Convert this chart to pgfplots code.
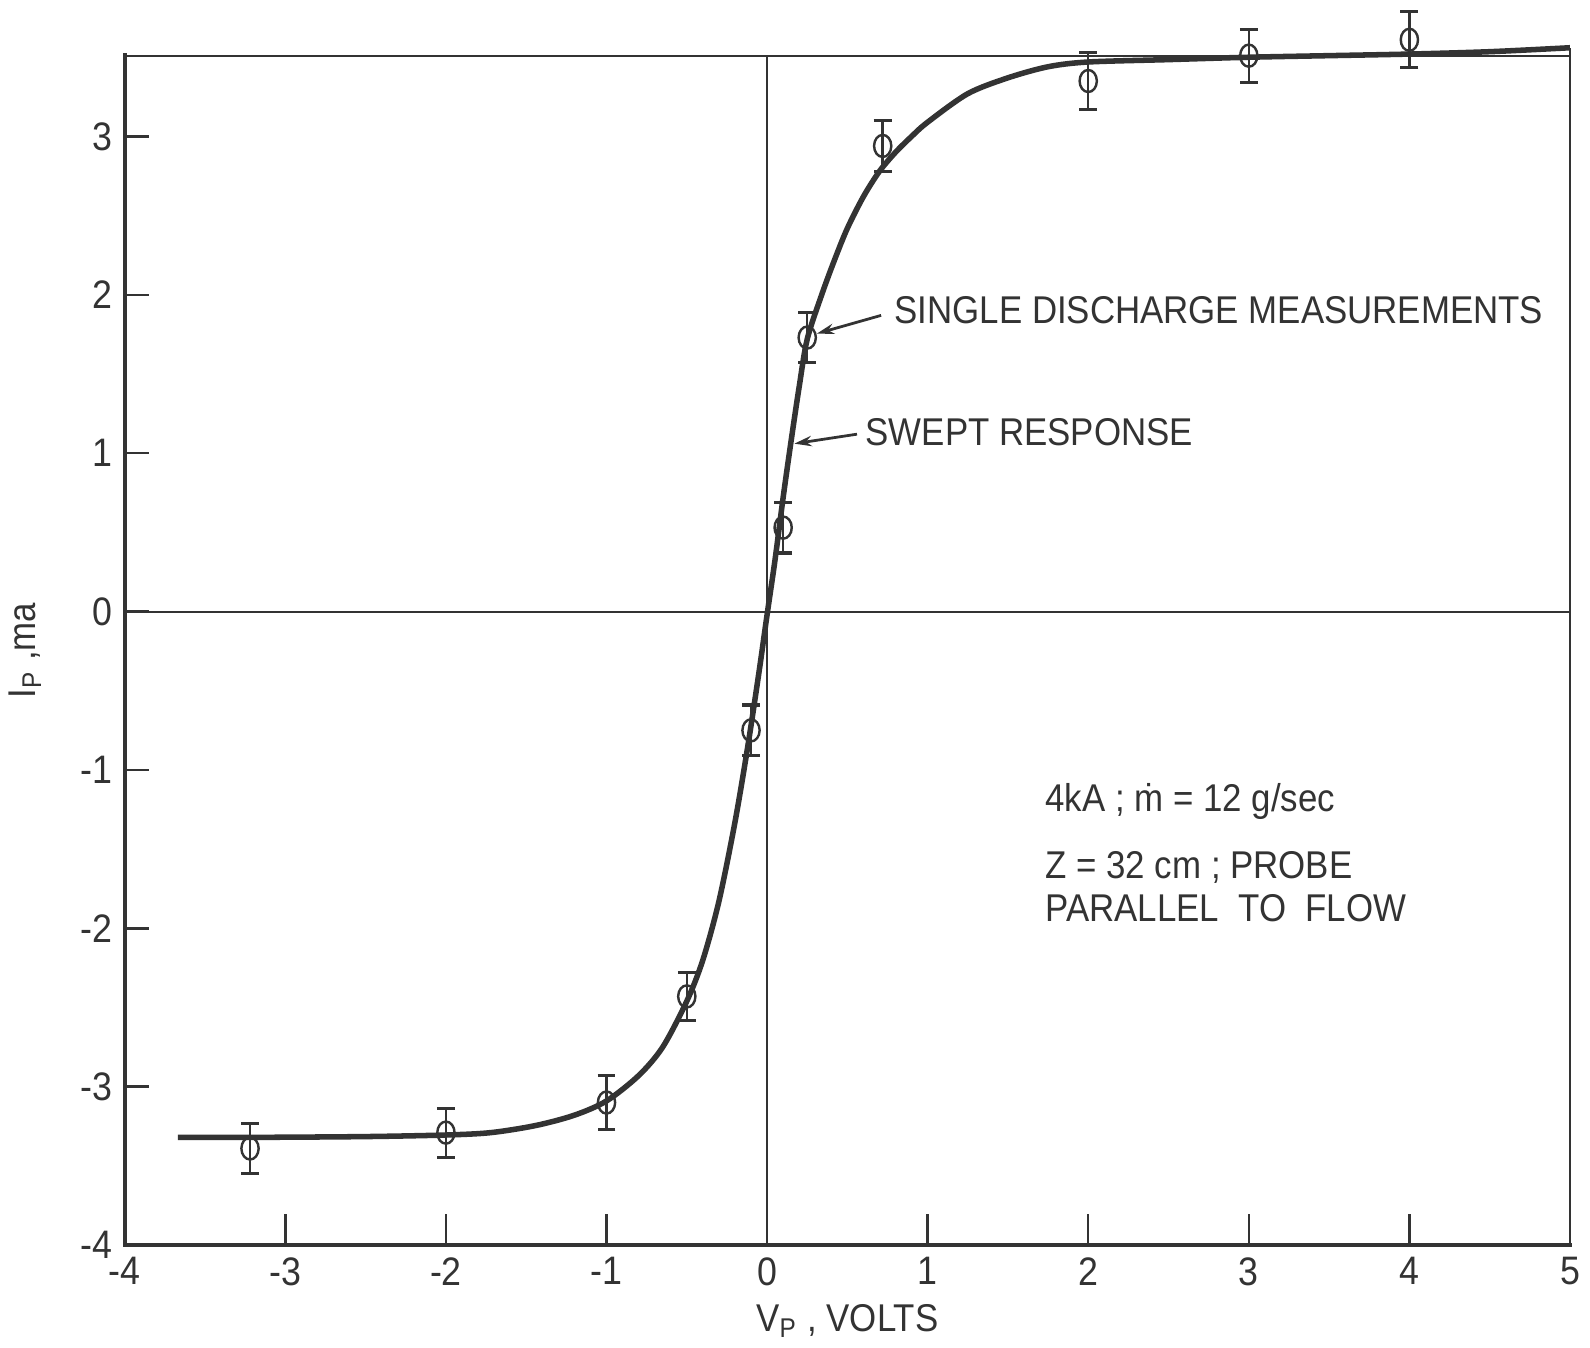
\documentclass[border=0pt]{standalone}
\usepackage{pgfplots}
\pgfplotsset{compat=1.18}
\usepackage{fontspec}
\setmainfont[FakeStretch=0.9]{Liberation Sans}
\usetikzlibrary{arrows.meta}
\definecolor{ink}{gray}{0.2}

\pgfplotstableread{
x y
-3.67 -3.32
-3.2 -3.32
-2.5 -3.315
-2.0 -3.305
-1.72 -3.29
-1.44 -3.245
-1.2 -3.18
-1.0 -3.09
-0.8 -2.93
-0.65 -2.75
-0.5 -2.46
-0.4 -2.2
-0.3 -1.83
-0.2 -1.33
-0.12 -0.85
-0.05 -0.38
0 -0.02
0.05 0.33
0.1 0.72
0.15 1.08
0.2 1.42
0.25 1.72
0.34 2.0
0.42 2.22
0.5 2.42
0.6 2.62
0.7 2.78
0.8 2.9
0.9 3.0
1.0 3.09
1.25 3.27
1.5 3.37
1.75 3.44
2.0 3.47
2.5 3.485
3.0 3.50
3.5 3.51
4.0 3.52
4.5 3.535
5.0 3.56
}\swept

\pgfplotstableread{
x y err
-3.22 -3.39 0.16
-2.0 -3.29 0.155
-1.0 -3.10 0.17
-0.5 -2.43 0.15
-0.1 -0.75 0.16
0.1 0.53 0.16
0.25 1.73 0.157
0.72 2.94 0.163
2.0 3.35 0.18
3.0 3.51 0.167
4.0 3.61 0.176
}\single

\begin{document}
\begin{tikzpicture}[font=\fontsize{11.2}{13}\selectfont]
\begin{axis}[
  scale only axis, width=418.1pt, height=344.1pt,
  xmin=-4, xmax=5, ymin=-4, ymax=3.51,
  axis line style={draw=none},
  clip=false,
  xtick={-4,...,5}, xticklabels={-4,-3,-2,-1,0,1,2,3,4,5},
  ytick={-4,...,3}, yticklabels={-4,-3,-2,-1,0,1,2,3},
  xtick pos=bottom, ytick pos=left,
  tick align=inside,
  xtick style={draw=ink, line width=0.7pt, /pgfplots/major tick length=9pt},
  ytick style={draw=ink, line width=0.7pt, /pgfplots/major tick length=7pt},
  tick label style={font=\fontsize{11.5}{13}\selectfont, text=ink},
  xlabel={V\textsubscript{P} , VOLTS},
  ylabel={I\textsubscript{P} ,ma},
  xlabel style={at={(axis description cs:0.5,-0.064)}, anchor=center, text=ink},
  ylabel style={at={(axis description cs:-0.069,0.5)}, anchor=center, rotate=0, text=ink},
]
% frame and zero lines
\draw[ink, line width=0.6pt] (axis cs:-4,0) -- (axis cs:5,0);
\draw[ink, line width=0.6pt] (axis cs:0,-4) -- (axis cs:0,3.51);
\draw[ink, line width=0.6pt] (axis cs:-4,3.51) -- (axis cs:5,3.51);
\draw[ink, line width=0.6pt] (axis cs:5,-4) -- (axis cs:5,3.56);
\draw[ink, line width=1.3pt, line cap=rect] (axis cs:-4,3.51) -- (axis cs:-4,-4) -- (axis cs:5,-4);

\addplot[ink, line width=1.6pt, smooth, tension=0.5] table {\swept};

\addplot[only marks, mark=o, mark size=3.2pt,
  mark options={fill=white, draw=ink, line width=0.7pt, xscale=0.78},
  error bars/.cd, y dir=both, y explicit,
  error bar style={line width=0.7pt, ink},
  error mark options={rotate=90, mark size=2.6pt, line width=0.9pt, ink}]
  table[x=x, y=y, y error=err] {\single};

\node[anchor=west, text=ink, inner sep=0pt] at (axis cs:0.79,1.90) {SINGLE DISCHARGE MEASUREMENTS};
\draw[ink, line width=0.8pt, -{Stealth[length=5pt,width=3pt]}] (axis cs:0.71,1.87) -- (axis cs:0.31,1.755);
\node[anchor=west, text=ink, inner sep=0pt] at (axis cs:0.61,1.13) {SWEPT RESPONSE};
\draw[ink, line width=0.8pt, -{Stealth[length=5pt,width=3pt]}] (axis cs:0.56,1.12) -- (axis cs:0.17,1.06);

\node[anchor=west, text=ink, inner sep=0pt] at (axis cs:1.73,-1.20) {4kA ; \.{m} = 12 g/sec};
\node[anchor=west, text=ink, inner sep=0pt] at (axis cs:1.73,-1.615) {Z = 32 cm ; PROBE};
\node[anchor=west, text=ink, inner sep=0pt] at (axis cs:1.73,-1.87) {PARALLEL\ \ TO\ \ FLOW};

\coordinate (bl) at (rel axis cs:0,0);
\coordinate (tr) at (rel axis cs:1,1);
\end{axis}
\pgfresetboundingbox
\path[use as bounding box] ([shift={(-36.1pt,-29.5pt)}]bl) rectangle ([shift={(5.8pt,16.1pt)}]tr);
\end{tikzpicture}
\end{document}
